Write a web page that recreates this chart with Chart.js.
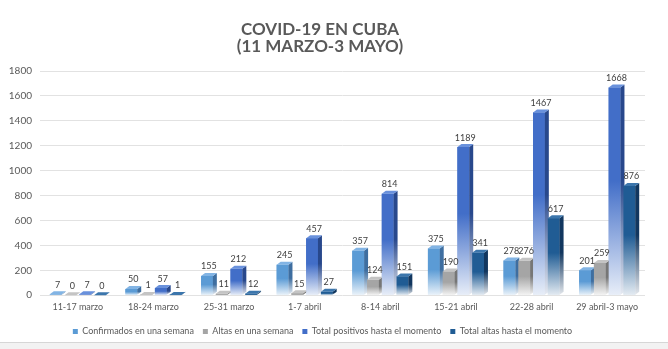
<!DOCTYPE html>
<html>
<head>
<meta charset="utf-8">
<script src="https://cdn.jsdelivr.net/npm/chart.js@4.4.0/dist/chart.umd.min.js"></script>
<style>
  html, body { margin: 0; padding: 0; background: #fff; }
  #wrap { position: relative; width: 668px; height: 349px; overflow: hidden; }
  #chart { position: absolute; left: 0; top: 0; }
  #title {
    position: absolute; left: 0; top: 20px; width: 640px;
    text-align: center; font: bold 17px Lato, sans-serif;
    line-height: 17px; color: #595959;
  }
  #band {
    position: absolute; left: 0; top: 342px; width: 668px; height: 7px;
    border-top: 1px solid #d6d6d6; background: #f2f2f2;
  }
</style>
</head>
<body>
<div id="wrap">
  <canvas id="chart" width="668" height="349"></canvas>
  <div id="title">COVID-19 EN CUBA<br>(11 MARZO-3 MAYO)</div>
  <div id="band"></div>
</div>
<script>
// semanas (categorias del eje x)
const semanas = ['11-17 marzo', '18-24 marzo', '25-31 marzo', '1-7 abril',
                 '8-14 abril', '15-21 abril', '22-28 abril', '29 abril-3 mayo'];

// series
const confirmados    = [7, 50, 155, 245, 357, 375, 278, 201];
const altas          = [0, 1, 11, 15, 124, 190, 276, 259];
const totalPositivos = [7, 57, 212, 457, 814, 1189, 1467, 1668];
const totalAltas     = [0, 1, 12, 27, 151, 341, 617, 876];

// eje y
const yMin = 0;
const yMax = 1800;
const yPaso = 200;

// colores: frente, lado, tapa
const colores = [
  { front: [91, 155, 213], side: [62, 110, 160], top: [130, 180, 228] },
  { front: [165, 165, 165], side: [118, 118, 118], top: [196, 196, 196] },
  { front: [66, 110, 200], side: [40, 72, 140], top: [105, 145, 220] },
  { front: [32, 92, 148], side: [18, 55, 95], top: [60, 118, 172] }
];

const rgb = (c) => 'rgb(' + c[0] + ',' + c[1] + ',' + c[2] + ')';
const pale = (c) => rgb(c.map(v => Math.round(v + (255 - v) * 0.88)));

function degradado(c, ctx, top, bottom) {
  const g = ctx.createLinearGradient(0, top, 0, bottom);
  g.addColorStop(0, rgb(c));
  g.addColorStop(0.45, rgb(c));
  g.addColorStop(1, pale(c));
  return g;
}

function relleno(c) {
  return function (context) {
    const chart = context.chart;
    if (!chart.chartArea || context.type !== 'data') return rgb(c);
    const y = chart.scales.y;
    const top = y.getPixelForValue(context.raw);
    const bottom = y.getPixelForValue(0);
    if (bottom - top < 2) return rgb(c);
    return degradado(c, chart.ctx, top, bottom);
  };
}

const dx = 4, dy = 3;

// barras en 3D y etiquetas de valores
const barras3d = {
  id: 'barras3d',
  afterDatasetsDraw(chart) {
    const ctx = chart.ctx;
    ctx.save();
    chart.data.datasets.forEach((ds, i) => {
      const c = colores[i];
      chart.getDatasetMeta(i).data.forEach((bar) => {
        const p = bar.getProps(['x', 'y', 'base', 'width'], true);
        const l = p.x - p.width / 2, r = p.x + p.width / 2;
        bar.draw(ctx);
        // lado
        ctx.beginPath();
        ctx.moveTo(r, p.y);
        ctx.lineTo(r + dx, p.y - dy);
        ctx.lineTo(r + dx, p.base - dy);
        ctx.lineTo(r, p.base);
        ctx.closePath();
        ctx.fillStyle = (p.base - p.y > 2) ? degradado(c.side, ctx, p.y, p.base) : rgb(c.side);
        ctx.fill();
        // tapa
        ctx.beginPath();
        ctx.moveTo(l, p.y);
        ctx.lineTo(l + dx, p.y - dy);
        ctx.lineTo(r + dx, p.y - dy);
        ctx.lineTo(r, p.y);
        ctx.closePath();
        ctx.fillStyle = rgb(c.top);
        ctx.fill();
      });
    });
    ctx.font = '9px Lato, sans-serif';
    ctx.fillStyle = '#404040';
    ctx.textAlign = 'center';
    ctx.textBaseline = 'bottom';
    chart.data.datasets.forEach((ds, i) => {
      chart.getDatasetMeta(i).data.forEach((bar, j) => {
        const p = bar.getProps(['x', 'y'], true);
        ctx.fillText(String(ds.data[j]), p.x + dx / 2, p.y - dy - 2);
      });
    });
    ctx.restore();
  }
};

const series = [
  { label: 'Confirmados en una semana', data: confirmados },
  { label: 'Altas en una semana', data: altas },
  { label: 'Total positivos hasta el momento', data: totalPositivos },
  { label: 'Total altas hasta el momento', data: totalAltas }
];

new Chart(document.getElementById('chart'), {
  type: 'bar',
  data: {
    labels: semanas,
    datasets: series.map((s, i) => ({
      label: s.label,
      data: s.data,
      backgroundColor: relleno(colores[i].front),
      borderWidth: 0,
      categoryPercentage: 0.78,
      barPercentage: 0.8
    }))
  },
  options: {
    responsive: false,
    animation: false,
    layout: { padding: { top: 71, right: 23, bottom: 3, left: 0 } },
    scales: {
      x: {
        grid: { display: false, drawTicks: false, tickLength: 0 },
        border: { display: false },
        ticks: { color: '#595959', font: { family: 'Lato', size: 9 }, padding: 6, maxRotation: 0 }
      },
      y: {
        min: yMin,
        max: yMax,
        ticks: {
          stepSize: yPaso, color: '#595959', font: { family: 'Lato', size: 10 }, padding: 8,
          callback: (v) => String(v)
        },
        grid: { color: '#e2e2e2', drawTicks: false },
        border: { display: false },
        afterFit(scale) { scale.width = 40; }
      }
    },
    plugins: {
      title: { display: false },
      tooltip: { enabled: false },
      legend: {
        position: 'bottom',
        labels: {
          boxWidth: 5, boxHeight: 5, padding: 9,
          color: '#595959', font: { family: 'Lato', size: 9 }
        }
      }
    }
  },
  plugins: [barras3d]
});
</script>
</body>
</html>
